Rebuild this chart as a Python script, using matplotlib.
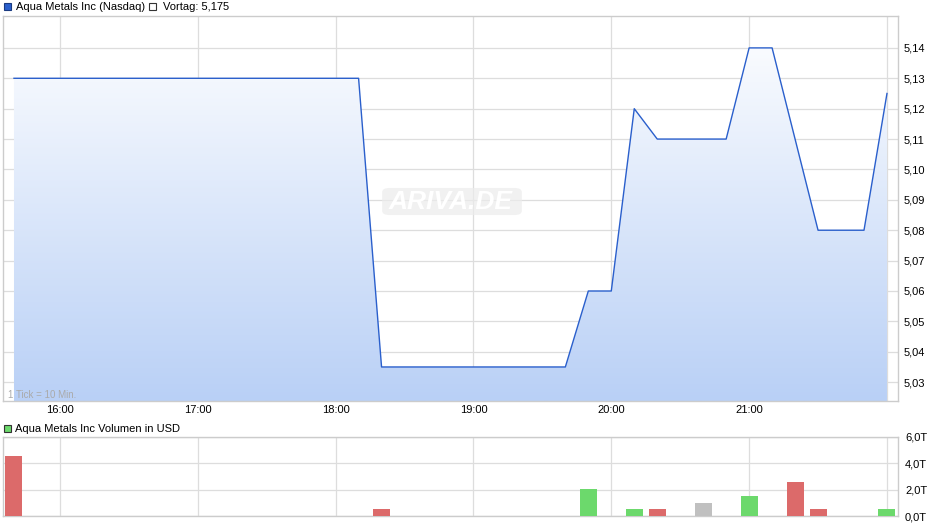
import numpy as np
import matplotlib
matplotlib.use("Agg")
import matplotlib.pyplot as plt
from matplotlib.patches import Rectangle, FancyBboxPatch, Polygon

# ---------------- data ----------------
price_times = ["15:40", "18:10", "18:20", "19:40", "19:50", "20:00", "20:10",
               "20:20", "20:50", "21:00", "21:10", "21:30", "21:50", "22:00"]
price_values = [5.13, 5.13, 5.035, 5.035, 5.06, 5.06, 5.12,
                5.11, 5.11, 5.14, 5.14, 5.08, 5.08, 5.125]

vol_times = ["15:40", "18:20", "19:50", "20:10", "20:20", "20:40", "21:00",
             "21:20", "21:30", "22:00"]
vol_values = [4.55, 0.53, 2.05, 0.53, 0.53, 1.0, 1.52, 2.58, 0.53, 0.53]  # in T (thousand)
vol_dir = ["down", "down", "up", "up", "down", "flat", "up", "down", "down", "up"]

price_ticks = [5.03, 5.04, 5.05, 5.06, 5.07, 5.08, 5.09, 5.10, 5.11, 5.12, 5.13, 5.14]
hour_ticks = ["16:00", "17:00", "18:00", "19:00", "20:00", "21:00"]
vol_ticks = [0, 2, 4, 6]

title_main = "Aqua Metals Inc (Nasdaq)"
title_prev = "Vortag: 5,175"
title_vol = "Aqua Metals Inc Volumen in USD"

def to_h(s):
    h, m = s.split(":")
    return int(h) + int(m) / 60.0

px = np.array([to_h(t) for t in price_times])
py = np.array(price_values)
vx = np.array([to_h(t) for t in vol_times])

plt.rcParams['font.family'] = ['Liberation Sans', 'DejaVu Sans']
W, H = 940, 526
fig = plt.figure(figsize=(W / 100, H / 100), dpi=100)

def fx(x): return x / W
def fy(y): return 1 - y / H

grid_c = "#dddddd"
spine_c = "#cccccc"
xlim = (15.587, 22.08)

# ---------------- main price axes ----------------
ax = fig.add_axes([fx(3), fy(401), fx(898) - fx(3), fy(16) - fy(401)])
ylim = (5.0238, 5.1505)
ax.set_xlim(*xlim)
ax.set_ylim(*ylim)

# gradient fill under line
grad = np.linspace(0, 1, 256).reshape(-1, 1)
top_c = np.array([1.0, 1.0, 1.0])
bot_c = np.array([0xb9, 0xd0, 0xf6]) / 255.0
img = top_c[None, None, :] * (1 - grad[:, :, None]) + bot_c[None, None, :] * grad[:, :, None]
im = ax.imshow(img, extent=[xlim[0], xlim[1], ylim[0], ylim[1]], aspect='auto',
               origin='upper', zorder=1)
poly_pts = np.vstack([np.column_stack([px, py]),
                      [[px[-1], ylim[0]], [px[0], ylim[0]]]])
poly = Polygon(poly_pts, closed=True, facecolor='none', edgecolor='none',
               transform=ax.transData)
ax.add_patch(poly)
im.set_clip_path(poly)

ax.plot(px, py, color="#2a5fcc", lw=1.0, zorder=3)

ax.set_yticks(price_ticks)
ax.set_yticklabels([f"{v:.2f}".replace(".", ",") for v in price_ticks])
ax.set_xticks([to_h(t) for t in hour_ticks] + [22.0])
ax.set_xticklabels(hour_ticks + [""])
ax.yaxis.tick_right()
ax.tick_params(axis='y', length=0, pad=4, labelsize=8, colors="#000000")
ax.tick_params(axis='x', length=0, pad=3, labelsize=8, colors="#000000")
ax.grid(True, color=grid_c, lw=0.9, zorder=0)
ax.set_axisbelow(True)
for s in ax.spines.values():
    s.set_color(spine_c)
    s.set_linewidth(1)

fig.text(fx(8), fy(395), "1 Tick = 10 Min.", fontsize=7, color="#aaaaaa",
         va='center', ha='left', zorder=5)

# watermark
wb = FancyBboxPatch((fx(384), fy(214)), fx(136), fy(189) - fy(214),
                    boxstyle="round,pad=0.002,rounding_size=0.008",
                    transform=fig.transFigure, facecolor="#ececec",
                    edgecolor="none", alpha=0.7, zorder=4)
fig.patches.append(wb)
fig.text(fx(451), fy(202), "ARIVA.DE", fontsize=19, fontweight='bold',
         fontstyle='italic', color="#ffffff", ha='center', va='center', zorder=6)

# ---------------- volume axes ----------------
axv = fig.add_axes([fx(3), fy(516), fx(898) - fx(3), fy(437) - fy(516)])
axv.set_xlim(*xlim)
axv.set_ylim(0, 6)
col_map = {"down": "#dc6a6a", "up": "#6cd96c", "flat": "#c0c0c0"}
axv.bar(vx, vol_values, width=17 / 138, color=[col_map[d] for d in vol_dir],
        zorder=3)
axv.set_yticks(vol_ticks)
axv.set_yticklabels([f"{v:.1f}".replace(".", ",") + "T" for v in vol_ticks])
axv.set_xticks([to_h(t) for t in hour_ticks] + [22.0])
axv.set_xticklabels([])
axv.yaxis.tick_right()
axv.tick_params(axis='y', length=0, pad=5, labelsize=8)
axv.tick_params(axis='x', length=0)
axv.grid(True, color=grid_c, lw=0.9, zorder=0)
axv.set_axisbelow(True)
for s in axv.spines.values():
    s.set_color(spine_c)
    s.set_linewidth(1)

# ---------------- legends ----------------
fig.patches.append(Rectangle((fx(4), fy(10)), fx(7), fy(3) - fy(10),
                             transform=fig.transFigure, facecolor="#2a5fcc",
                             edgecolor="#1a3a80", lw=0.8))
fig.text(fx(16), fy(6.5), title_main, fontsize=8, va='center', ha='left')
fig.patches.append(Rectangle((fx(149), fy(10)), fx(7), fy(3) - fy(10),
                             transform=fig.transFigure, facecolor="white",
                             edgecolor="#333333", lw=0.8))
fig.text(fx(163), fy(6.5), title_prev, fontsize=8, va='center', ha='left')

fig.patches.append(Rectangle((fx(4), fy(432)), fx(7), fy(425) - fy(432),
                             transform=fig.transFigure, facecolor="#6cd96c",
                             edgecolor="#333333", lw=0.8))
fig.text(fx(15), fy(428.5), title_vol, fontsize=8, va='center', ha='left')

fig.savefig("out.png", dpi=100)
